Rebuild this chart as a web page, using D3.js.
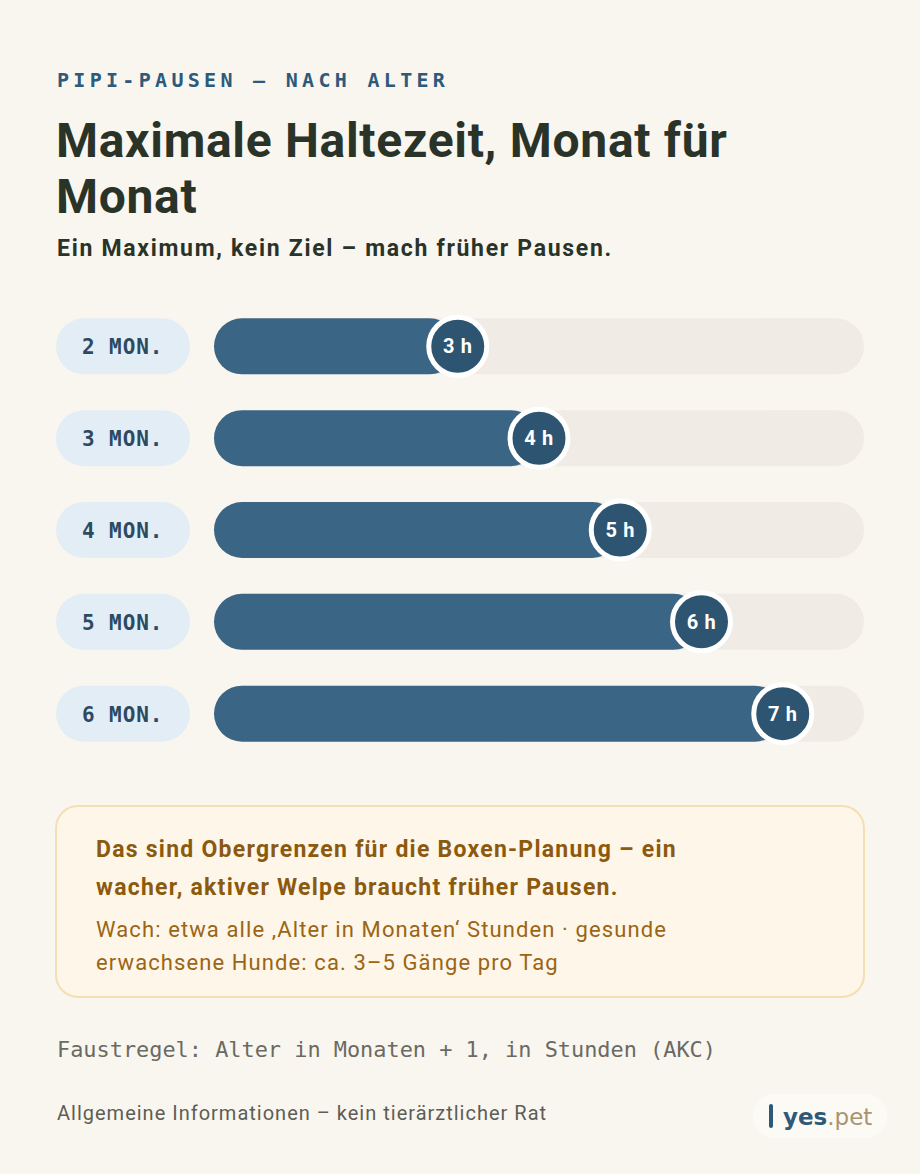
<!DOCTYPE html>
<html>
<head>
<meta charset="utf-8">
<script src="https://cdn.jsdelivr.net/npm/d3@7"></script>
<style>
  html, body { margin: 0; padding: 0; background: #f9f6f0; }
  svg { display: block; }
</style>
</head>
<body>
<div id="chart"></div>
<script>
// data
var ages = ["2 MON.", "3 MON.", "4 MON.", "5 MON.", "6 MON."];
var hours = [3, 4, 5, 6, 7];
var hourLabels = ["3 h", "4 h", "5 h", "6 h", "7 h"];
var maxHours = 8;

var W = 920, H = 1174;
var sans = "Roboto, 'Noto Sans', sans-serif";
var mono = "'DejaVu Sans Mono', 'Liberation Mono', monospace";

var svg = d3.select("#chart").append("svg")
    .attr("width", W)
    .attr("height", H);

svg.append("rect").attr("width", W).attr("height", H).attr("fill", "#f9f6f0");

// header
svg.append("text")
    .attr("x", 57).attr("y", 87)
    .attr("font-family", mono).attr("font-weight", 700)
    .attr("font-size", 20).attr("letter-spacing", 4.3)
    .attr("fill", "#2d5a7b")
    .text("PIPI-PAUSEN – NACH ALTER");

var title = svg.append("text")
    .attr("font-family", sans).attr("font-weight", 700)
    .attr("font-size", 48).attr("letter-spacing", 0.7)
    .attr("fill", "#2a3328");
title.append("tspan").attr("x", 56).attr("y", 157).text("Maximale Haltezeit, Monat für");
title.append("tspan").attr("x", 56).attr("y", 213).text("Monat");

svg.append("text")
    .attr("x", 57).attr("y", 256)
    .attr("font-family", sans).attr("font-weight", 700)
    .attr("font-size", 23).attr("letter-spacing", 1.7)
    .attr("fill", "#2a3328")
    .text("Ein Maximum, kein Ziel – mach früher Pausen.");

// scales
var x = d3.scaleLinear().domain([0, maxHours]).range([214, 864]);
var y = d3.scaleBand().domain(ages).range([300, 760]).paddingInner(0.39).paddingOuter(0.2);
var barH = 56;

var rows = svg.selectAll("g.row")
  .data(ages.map(function(a, i) { return {age: a, h: hours[i], label: hourLabels[i]}; }))
  .enter().append("g")
    .attr("class", "row")
    .attr("transform", function(d) { return "translate(0," + (y(d.age) + y.bandwidth() / 2) + ")"; });

// age pill
rows.append("rect")
    .attr("x", 56).attr("y", -barH / 2)
    .attr("width", 134).attr("height", barH)
    .attr("rx", barH / 2)
    .attr("fill", "#e3edf5");
rows.append("text")
    .attr("x", 82).attr("y", 8)
    .attr("font-family", mono).attr("font-weight", 700)
    .attr("font-size", 21).attr("letter-spacing", 0.9)
    .attr("fill", "#2d4a63")
    .text(function(d) { return d.age; });

// track
rows.append("rect")
    .attr("x", x(0)).attr("y", -barH / 2)
    .attr("width", x(maxHours) - x(0)).attr("height", barH)
    .attr("rx", barH / 2)
    .attr("fill", "#f0ebe4");

// fill
rows.append("rect")
    .attr("x", x(0)).attr("y", -barH / 2)
    .attr("width", function(d) { return x(d.h) - x(0); })
    .attr("height", barH)
    .attr("rx", barH / 2)
    .attr("fill", "#3b6584");

// badge
rows.append("circle")
    .attr("cx", function(d) { return x(d.h); })
    .attr("cy", 0)
    .attr("r", 29)
    .attr("fill", "#2d5471")
    .attr("stroke", "#ffffff")
    .attr("stroke-width", 5);
rows.append("text")
    .attr("x", function(d) { return x(d.h); })
    .attr("y", 7)
    .attr("text-anchor", "middle")
    .attr("font-family", sans).attr("font-weight", 700)
    .attr("font-size", 20).attr("letter-spacing", 0.6)
    .attr("fill", "#ffffff")
    .text(function(d) { return d.label; });

// callout
svg.append("rect")
    .attr("x", 56).attr("y", 806)
    .attr("width", 808).attr("height", 191)
    .attr("rx", 22)
    .attr("fill", "#fef6e8")
    .attr("stroke", "#f4dfb4").attr("stroke-width", 2);

var c1 = svg.append("text")
    .attr("font-family", sans).attr("font-weight", 700)
    .attr("font-size", 23).attr("letter-spacing", 1.25)
    .attr("fill", "#8c5a0e");
c1.append("tspan").attr("x", 96).attr("y", 857).text("Das sind Obergrenzen für die Boxen-Planung – ein");
c1.append("tspan").attr("x", 96).attr("y", 895).text("wacher, aktiver Welpe braucht früher Pausen.");

var c2 = svg.append("text")
    .attr("font-family", sans).attr("font-weight", 400)
    .attr("font-size", 22).attr("letter-spacing", 1.1)
    .attr("fill", "#9a6514");
c2.append("tspan").attr("x", 96).attr("y", 937).text("Wach: etwa alle ‚Alter in Monaten‘ Stunden · gesunde");
c2.append("tspan").attr("x", 96).attr("y", 970).text("erwachsene Hunde: ca. 3–5 Gänge pro Tag");

// footer
svg.append("text")
    .attr("x", 57).attr("y", 1057)
    .attr("font-family", mono).attr("font-size", 21.9)
    .attr("fill", "#6b6a62")
    .text("Faustregel: Alter in Monaten + 1, in Stunden (AKC)");

svg.append("text")
    .attr("x", 57).attr("y", 1120)
    .attr("font-family", sans).attr("font-size", 20)
    .attr("letter-spacing", 1.0)
    .attr("fill", "#5e5d55")
    .text("Allgemeine Informationen – kein tierärztlicher Rat");

// logo
var logo = svg.append("g");
logo.append("rect")
    .attr("x", 753).attr("y", 1094)
    .attr("width", 134).attr("height", 44)
    .attr("rx", 22).attr("fill", "#fcfaf5");
logo.append("rect")
    .attr("x", 769).attr("y", 1104)
    .attr("width", 4).attr("height", 24)
    .attr("rx", 2).attr("fill", "#2d5a7b");
var lt = logo.append("text")
    .attr("x", 783).attr("y", 1125)
    .attr("font-family", "'DejaVu Sans', sans-serif")
    .attr("font-size", 23);
lt.append("tspan").attr("font-weight", 700).attr("fill", "#2d5a7b").text("yes");
lt.append("tspan").attr("font-weight", 400).attr("fill", "#a8946e").text(".pet");
</script>
</body>
</html>
